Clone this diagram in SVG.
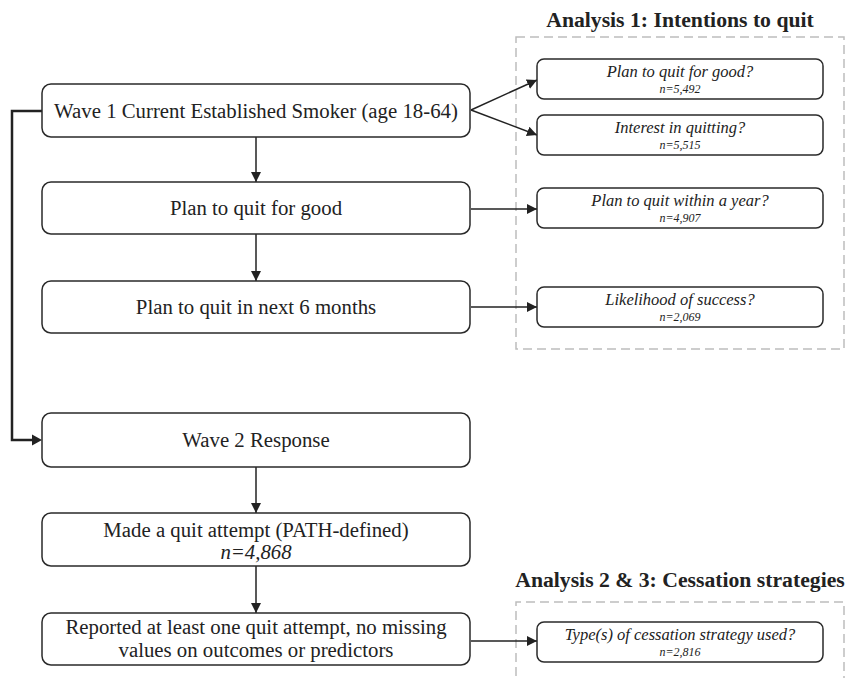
<svg xmlns="http://www.w3.org/2000/svg" width="846" height="678" viewBox="0 0 846 678">
<defs>
<marker id="ah" markerWidth="12" markerHeight="12" refX="10" refY="6" orient="auto" markerUnits="userSpaceOnUse">
<path d="M0,1 L10,6 L0,11 Z" fill="#222"/>
</marker>
<style>
.box{fill:#fff;stroke:#2a2a2a;stroke-width:1.5}
.dash{fill:none;stroke:#bdbdbd;stroke-width:1.5;stroke-dasharray:9,5}
.main{font-family:"Liberation Serif",serif;font-size:20.8px;fill:#222;text-anchor:middle}
.q{font-family:"Liberation Serif",serif;font-style:italic;font-size:16.5px;fill:#222;text-anchor:middle}
.n{font-family:"Liberation Serif",serif;font-style:italic;font-size:12px;fill:#222;text-anchor:middle}
.title{font-family:"Liberation Serif",serif;font-weight:bold;font-size:21.7px;fill:#222;text-anchor:middle}
.c{fill:none;stroke:#222;stroke-width:1.5}
.thick{fill:none;stroke:#222;stroke-width:2.5}
</style>
</defs>
<rect width="846" height="678" fill="#fff"/>
<g id="analysis1">
<text class="title" x="680" y="27">Analysis 1: Intentions to quit</text>
<rect class="dash" x="516" y="37" width="328" height="312"/>
</g>
<g id="analysis2">
<text class="title" x="680" y="587">Analysis 2 &amp; 3: Cessation strategies</text>
<path class="dash" d="M516,690 L516,602 L844,602 L844,690"/>
</g>
<g id="connectors">
<path class="thick" d="M42,111 L12,111 L12,440 L33,440"/>
<path d="M32,434.5 L42,440 L32,445.5 Z" fill="#222"/>
<line class="c" x1="256" y1="137" x2="256" y2="182" marker-end="url(#ah)"/>
<line class="c" x1="256" y1="234" x2="256" y2="281" marker-end="url(#ah)"/>
<line class="c" x1="256" y1="467" x2="256" y2="513" marker-end="url(#ah)"/>
<line class="c" x1="256" y1="566" x2="256" y2="613" marker-end="url(#ah)"/>
<line class="c" x1="471" y1="110" x2="537" y2="80" marker-end="url(#ah)"/>
<line class="c" x1="471" y1="110" x2="537" y2="135" marker-end="url(#ah)"/>
<line class="c" x1="471" y1="209" x2="537" y2="209" marker-end="url(#ah)"/>
<line class="c" x1="471" y1="307" x2="537" y2="307" marker-end="url(#ah)"/>
<line class="c" x1="471" y1="641" x2="537" y2="641" marker-end="url(#ah)"/>
</g>
<g id="wave1">
<rect class="box" x="42" y="84" width="428" height="53" rx="9"/>
<text class="main" x="256" y="118">Wave 1 Current Established Smoker (age 18-64)</text>
</g>
<g id="plan-good">
<rect class="box" x="42" y="182" width="428" height="52" rx="9"/>
<text class="main" x="256" y="215">Plan to quit for good</text>
</g>
<g id="plan-6m">
<rect class="box" x="42" y="281" width="428" height="52" rx="9"/>
<text class="main" x="256" y="314">Plan to quit in next 6 months</text>
</g>
<g id="wave2">
<rect class="box" x="42" y="413" width="428" height="54" rx="9"/>
<text class="main" x="256" y="447">Wave 2 Response</text>
</g>
<g id="quit-attempt">
<rect class="box" x="42" y="513" width="428" height="53" rx="9"/>
<text class="main" x="256" y="537">Made a quit attempt (PATH-defined)</text>
<text class="main" x="256" y="559" font-style="italic">n=4,868</text>
</g>
<g id="reported">
<rect class="box" x="42" y="613" width="428" height="52" rx="9"/>
<text class="main" x="256" y="634">Reported at least one quit attempt, no missing</text>
<text class="main" x="256" y="657">values on outcomes or predictors</text>
</g>
<g id="q-good">
<rect class="box" x="537" y="59" width="286" height="40" rx="7"/>
<text class="q" x="680" y="77">Plan to quit for good?</text>
<text class="n" x="680" y="93">n=5,492</text>
</g>
<g id="q-interest">
<rect class="box" x="537" y="115" width="286" height="40" rx="7"/>
<text class="q" x="680" y="133">Interest in quitting?</text>
<text class="n" x="680" y="149">n=5,515</text>
</g>
<g id="q-year">
<rect class="box" x="537" y="188" width="286" height="40" rx="7"/>
<text class="q" x="680" y="206">Plan to quit within a year?</text>
<text class="n" x="680" y="222">n=4,907</text>
</g>
<g id="q-success">
<rect class="box" x="537" y="287" width="286" height="40" rx="7"/>
<text class="q" x="680" y="305">Likelihood of success?</text>
<text class="n" x="680" y="321">n=2,069</text>
</g>
<g id="q-strategy">
<rect class="box" x="537" y="622" width="286" height="40" rx="7"/>
<text class="q" x="680" y="640">Type(s) of cessation strategy used?</text>
<text class="n" x="680" y="656">n=2,816</text>
</g>
</svg>
